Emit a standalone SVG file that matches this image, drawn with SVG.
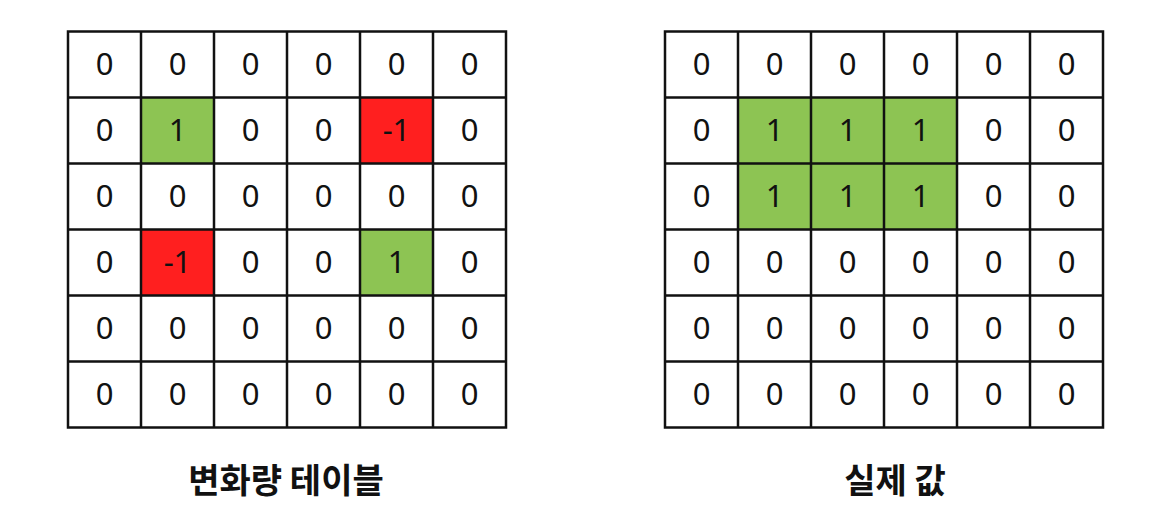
<svg xmlns="http://www.w3.org/2000/svg" width="1163" height="521" viewBox="0 0 1163 521">
<style>
.cell{fill:#ffffff;stroke:#111;stroke-width:2.5}
.g{fill:#8dc453}
.r{fill:#ff1f1f}
.n{font-family:"Noto Sans","Liberation Sans",sans-serif;font-size:31px;fill:#111;text-anchor:middle}
.lbl{font-family:"Noto Sans CJK KR","Noto Sans",sans-serif;font-size:34px;font-weight:bold;fill:#111;text-anchor:middle}
</style>
<rect width="1163" height="521" fill="#ffffff"/>
<g id="left-table">
<g id="left-fills">
<rect class="g" x="141" y="97.5" width="73" height="66"/>
<rect class="r" x="360" y="97.5" width="73" height="66"/>
<rect class="r" x="141" y="229.5" width="73" height="66"/>
<rect class="g" x="360" y="229.5" width="73" height="66"/>
</g>
<g id="left-lines" stroke="#111" stroke-width="2.5" fill="none">
<rect x="68" y="31.5" width="438" height="396"/>
<path d="M141 31.5V427.5M214 31.5V427.5M287 31.5V427.5M360 31.5V427.5M433 31.5V427.5"/>
<path d="M68 97.5H506M68 163.5H506M68 229.5H506M68 295.5H506M68 361.5H506"/>
</g>
<g id="left-values" class="n">
<text x="104.5" y="75">0</text><text x="177.5" y="75">0</text><text x="250.5" y="75">0</text><text x="323.5" y="75">0</text><text x="396.5" y="75">0</text><text x="469.5" y="75">0</text>
<text x="104.5" y="141">0</text><text x="177.5" y="141">1</text><text x="250.5" y="141">0</text><text x="323.5" y="141">0</text><text x="396.5" y="141">-1</text><text x="469.5" y="141">0</text>
<text x="104.5" y="207">0</text><text x="177.5" y="207">0</text><text x="250.5" y="207">0</text><text x="323.5" y="207">0</text><text x="396.5" y="207">0</text><text x="469.5" y="207">0</text>
<text x="104.5" y="273">0</text><text x="177.5" y="273">-1</text><text x="250.5" y="273">0</text><text x="323.5" y="273">0</text><text x="396.5" y="273">1</text><text x="469.5" y="273">0</text>
<text x="104.5" y="339">0</text><text x="177.5" y="339">0</text><text x="250.5" y="339">0</text><text x="323.5" y="339">0</text><text x="396.5" y="339">0</text><text x="469.5" y="339">0</text>
<text x="104.5" y="405">0</text><text x="177.5" y="405">0</text><text x="250.5" y="405">0</text><text x="323.5" y="405">0</text><text x="396.5" y="405">0</text><text x="469.5" y="405">0</text>
</g>
<text id="left-label" class="lbl" x="286" y="493">변화량 테이블</text>
</g>
<g id="right-table">
<g id="right-fills">
<rect class="g" x="738" y="97.5" width="219" height="132"/>
</g>
<g id="right-lines" stroke="#111" stroke-width="2.5" fill="none">
<rect x="665" y="31.5" width="438" height="396"/>
<path d="M738 31.5V427.5M811 31.5V427.5M884 31.5V427.5M957 31.5V427.5M1030 31.5V427.5"/>
<path d="M665 97.5H1103M665 163.5H1103M665 229.5H1103M665 295.5H1103M665 361.5H1103"/>
</g>
<g id="right-values" class="n">
<text x="701.5" y="75">0</text><text x="774.5" y="75">0</text><text x="847.5" y="75">0</text><text x="920.5" y="75">0</text><text x="993.5" y="75">0</text><text x="1066.5" y="75">0</text>
<text x="701.5" y="141">0</text><text x="774.5" y="141">1</text><text x="847.5" y="141">1</text><text x="920.5" y="141">1</text><text x="993.5" y="141">0</text><text x="1066.5" y="141">0</text>
<text x="701.5" y="207">0</text><text x="774.5" y="207">1</text><text x="847.5" y="207">1</text><text x="920.5" y="207">1</text><text x="993.5" y="207">0</text><text x="1066.5" y="207">0</text>
<text x="701.5" y="273">0</text><text x="774.5" y="273">0</text><text x="847.5" y="273">0</text><text x="920.5" y="273">0</text><text x="993.5" y="273">0</text><text x="1066.5" y="273">0</text>
<text x="701.5" y="339">0</text><text x="774.5" y="339">0</text><text x="847.5" y="339">0</text><text x="920.5" y="339">0</text><text x="993.5" y="339">0</text><text x="1066.5" y="339">0</text>
<text x="701.5" y="405">0</text><text x="774.5" y="405">0</text><text x="847.5" y="405">0</text><text x="920.5" y="405">0</text><text x="993.5" y="405">0</text><text x="1066.5" y="405">0</text>
</g>
<text id="right-label" class="lbl" x="895" y="493">실제 값</text>
</g>
</svg>
